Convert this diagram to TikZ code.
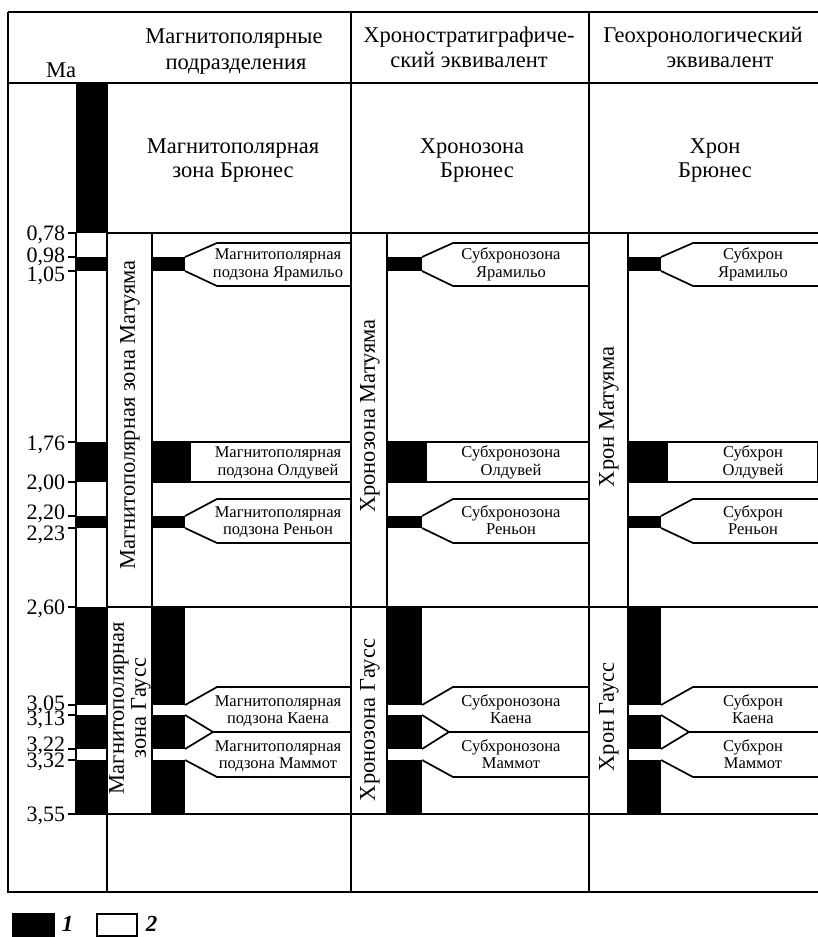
\documentclass[tikz,border=0pt]{standalone}
\usepackage{fontspec}
\setmainfont{Liberation Serif}
\begin{document}
\begin{tikzpicture}[x=1pt,y=-1pt,line width=1.7pt,
  hdr/.style={font=\fontsize{22.5}{27}\selectfont,inner sep=0pt,anchor=base},
  sml/.style={font=\fontsize{16.5}{17}\selectfont,inner sep=0pt,anchor=base},
  num/.style={font=\fontsize{22}{22}\selectfont,inner sep=0pt,anchor=base east},
  vert/.style={font=\fontsize{22.5}{22}\selectfont,rotate=90,align=center,inner sep=0pt},
  leg/.style={font=\fontsize{23}{23}\selectfont\itshape\bfseries,inner sep=0pt,anchor=base west},
  tick/.style={line width=1.2pt}]
\useasboundingbox (0,0) rectangle (818,937);

% ---------- axis column (black = normal polarity)
\fill (76,83) rectangle (107,233);
\fill (76,257) rectangle (107,271);
\fill (76,442) rectangle (107,482);
\fill (76,516) rectangle (107,528);
\fill (76,607) rectangle (107,705);
\fill (76,715) rectangle (107,749);
\fill (76,760) rectangle (107,814);

% ---------- subdivision columns
\foreach \a/\b/\o/\p/\r in {152/185/190/217/351, 387/422/426/453/589, 628/661/667/693/818}{
  \fill (\a,257) rectangle (\b,271);
  \fill (\a,442) rectangle (\o,482);
  \fill (\a,516) rectangle (\b,528);
  \fill (\a,607) rectangle (\b,705);
  \fill (\a,715) rectangle (\b,749);
  \fill (\a,760) rectangle (\b,814);
  \draw (\b,257) -- (\p,243) -- (\r,243);
  \draw (\b,271) -- (\p,286) -- (\r,286);
  \draw (\o,442) rectangle (\r,482);
  \draw (\a,442) -- (\o,442) (\a,482) -- (\o,482);
  \draw (\b,516) -- (\p,499) -- (\r,499);
  \draw (\b,528) -- (\p,543) -- (\r,543);
  \draw (\b,705) -- (\p,687) -- (\r,687);
  \draw (\b,715) -- (\p-4,732) -- (\r,732);
  \draw (\b,749) -- (\p-4,732);
  \draw (\b,760) -- (\p,777) -- (\r,777);
  \draw (\a,233) -- (\a,814);
}

% ---------- frame and grid
\draw (8,12) -- (818,12);
\draw (8,83) -- (818,83);
\draw (8,12) -- (8,892) -- (818,892);
\draw (107,83) -- (107,892);
\draw (351,12) -- (351,892);
\draw (589,12) -- (589,892);
\draw (107,233) -- (818,233);
\draw (107,607) -- (818,607);
\draw (76,814) -- (818,814);
\draw (76,233) -- (76,814);

% ---------- ticks and ages
\foreach \y in {233,257,271,442,482,516,528,607,705,715,749,760,814}{
  \draw[tick] (68,\y) -- (76,\y);
}
\node[num] (t078) at (66,240) {0,78};
\node[num] (t098) at (66,262) {0,98};
\node[num] (t105) at (66,281) {1,05};
\node[num] (t176) at (66,450) {1,76};
\node[num] (t200) at (66,489) {2,00};
\node[num] (t220) at (66,519) {2,20};
\node[num] (t223) at (66,540) {2,23};
\node[num] (t260) at (66,614) {2,60};
\node[num] (t305) at (66,710) {3,05};
\node[num] (t313) at (66,725) {3,13};
\node[num] (t322) at (66,751) {3,22};
\node[num] (t332) at (66,767) {3,32};
\node[num] (t355) at (66,821) {3,55};

% ---------- headers
\node[hdr] (ma) at (61,77) {Ма};
\node[hdr] (h1a) at (234,43) {Магнитополярные};
\node[hdr] (h1b) at (236,69) {подразделения};
\node[hdr] (h2a) at (469,42) {Хроностратиграфиче-};
\node[hdr] (h2b) at (469,67) {ский эквивалент};
\node[hdr] (h3a) at (703,42) {Геохронологический};
\node[hdr] (h3b) at (720,67) {эквивалент};

% ---------- Brunhes
\node[hdr] (b1a) at (233,153) {Магнитополярная};
\node[hdr] (b1b) at (233,177) {зона Брюнес};
\node[hdr] (b2a) at (472,153) {Хронозона};
\node[hdr] (b2b) at (477,177) {Брюнес};
\node[hdr] (b3a) at (715,153) {Хрон};
\node[hdr] (b3b) at (715,177) {Брюнес};

% ---------- vertical zone names
\node[vert] (v1) at (130,415) {Магнитополярная зона Матуяма};
\node[vert] (v2) at (370,416) {Хронозона Матуяма};
\node[vert] (v3) at (609,417) {Хрон Матуяма};
\node[vert] (g1) at (130,708) {Магнитополярная\\зона Гаусс};
\node[vert] (g2) at (370,720) {Хронозона Гаусс};
\node[vert] (g3) at (609,717) {Хрон Гаусс};

% ---------- subzone labels
\foreach \c/\x/\first/\pre in {1/278/Магнитополярная/{подзона }, 2/511/Субхронозона/{}, 3/753/Субхрон/{}}{
  \foreach \k/\ya/\yb/\nm in {j/259/277/Ярамильо, o/457/475/Олдувей, r/517/534/Реньон, k/706/723/Каена, m/751/768/Маммот}{
    \node[sml] (s\c\k a) at (\x,\ya) {\first};
    \node[sml] (s\c\k b) at (\x,\yb) {\pre\nm};
  }
}

% ---------- legend
\fill (12,913) rectangle (55,937);
\node[leg] (l1) at (61,931) {1};
\draw[line width=1.4pt] (97,914) rectangle (137,936);
\node[leg] (l2) at (145,931) {2};
\end{tikzpicture}
\end{document}
